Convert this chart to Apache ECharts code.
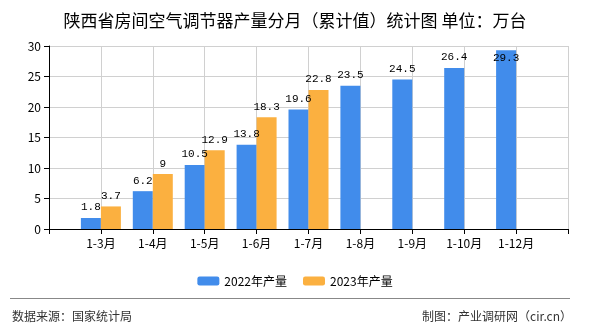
<!DOCTYPE html>
<html><head><meta charset="utf-8">
<script src="https://cdn.jsdelivr.net/npm/echarts@6/dist/echarts.min.js"></script>
<style>html,body{margin:0;padding:0;background:#fff}#c{width:590px;height:330px}</style>
</head><body><div id="c"></div>
<script>
const categories = ['', '1-3月', '1-4月', '1-5月', '1-6月', '1-7月', '1-8月', '1-9月', '1-10月', '1-12月', ''];
const values2022 = [null, 1.8, 6.2, 10.5, 13.8, 19.6, 23.5, 24.5, 26.4, 29.3, null];
const values2023 = [null, 3.7, 9, 12.9, 18.3, 22.8, null, null, null, null, null];
const seriesNames = ['2022年产量', '2023年产量'];
const yTicks = [0, 5, 10, 15, 20, 25, 30];

const cjk = '"Noto Sans CJK SC", "Noto Sans", sans-serif';
const mono = '"Liberation Mono", "DejaVu Sans Mono", monospace';
const chart = echarts.init(document.getElementById('c'), null, {renderer: 'canvas'});
function mkData(arr) {
  return arr.map(v => {
    if (v == null) return null;
    if (v > 28) return {value: v, label: {position: 'insideTop', distance: 2}};
    return v;
  });
}
const labelStyle = {show: true, position: 'top', distance: 5, color: '#000', fontFamily: mono, fontSize: 11};
chart.setOption({
  animation: false,
  title: {text: '陕西省房间空气调节器产量分月（累计值）统计图 单位：万台', left: 'center', top: 7,
    textStyle: {fontFamily: cjk, fontSize: 17, fontWeight: 'normal', color: '#000'}},
  legend: {top: 270, left: 'center', itemWidth: 22, itemHeight: 9, itemGap: 16,
    textStyle: {fontFamily: cjk, fontSize: 12, color: '#000'}, data: seriesNames},
  grid: {left: 49, right: 22, top: 46, bottom: 101},
  xAxis: {type: 'category', data: categories, boundaryGap: false,
    axisLine: {lineStyle: {color: '#000'}}, axisTick: {show: true, length: 5, lineStyle: {color: '#000'}},
    axisLabel: {color: '#000', fontFamily: cjk, fontSize: 12, margin: 8, interval: 0},
    splitLine: {show: true, lineStyle: {color: '#d0d0d0'}}},
  yAxis: {type: 'value', min: yTicks[0], max: yTicks[yTicks.length - 1], interval: 5,
    axisLine: {show: true, lineStyle: {color: '#000'}}, axisTick: {show: true, length: 5, lineStyle: {color: '#000'}},
    axisLabel: {color: '#000', fontFamily: cjk, fontSize: 12, margin: 8},
    splitLine: {lineStyle: {color: '#d0d0d0'}}},
  graphic: [
    {type: 'line', shape: {x1: 10, y1: 298.5, x2: 570, y2: 298.5}, style: {stroke: '#888', lineWidth: 1}},
    {type: 'text', left: 12, top: 310, style: {text: '数据来源：国家统计局', font: '12px ' + cjk, fill: '#333'}},
    {type: 'text', right: 18, top: 310, style: {text: '制图：产业调研网（cir.cn）', font: '12px ' + cjk, fill: '#333'}}
  ],
  series: [
    {name: seriesNames[0], type: 'bar', data: mkData(values2022), barWidth: 20, barGap: '0%',
      itemStyle: {color: '#418ceb'}, label: labelStyle},
    {name: seriesNames[1], type: 'bar', data: mkData(values2023), barWidth: 20, barGap: '0%',
      itemStyle: {color: '#fbb040'}, label: labelStyle}
  ]
});
</script></body></html>
